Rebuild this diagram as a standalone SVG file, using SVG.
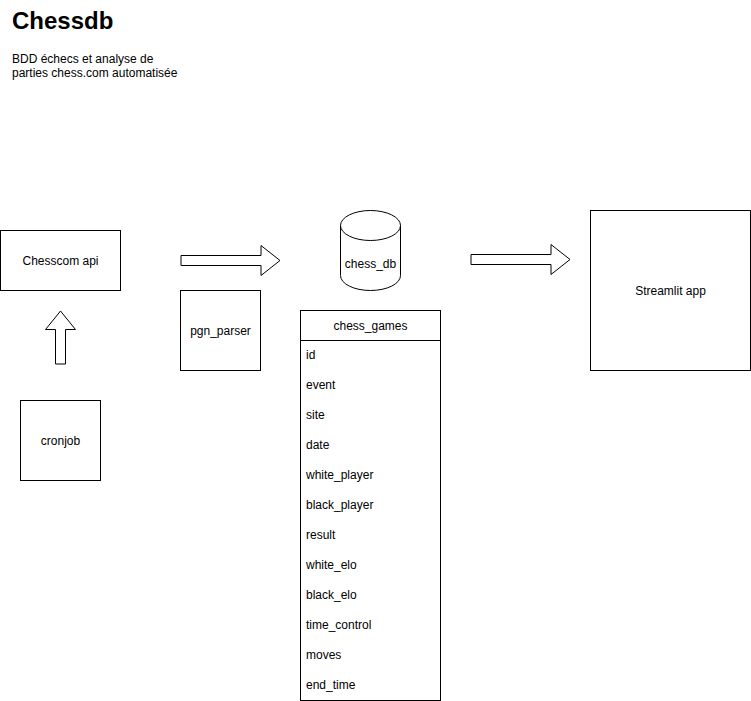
<svg xmlns="http://www.w3.org/2000/svg" width="751" height="701" viewBox="0 0 751 701">
<style>
.n{fill:#fff;stroke:#000;stroke-width:1}
.t{font-family:"Liberation Sans",Arial,sans-serif;font-size:12px;fill:#000}
.c{text-anchor:middle}
.a{fill:#fff;stroke:#000;stroke-width:1;stroke-linejoin:miter}
</style>
<rect width="751" height="701" fill="#fff"/>
<g id="title">
<text x="12" y="29" font-family="Liberation Sans,Arial,sans-serif" font-size="24" font-weight="bold">Chessdb</text>
<text class="t" x="12" y="63">BDD échecs et analyse de</text>
<text class="t" x="12" y="77">parties chess.com automatisée</text>
</g>
<g id="chesscom-api"><rect class="n" x="0.5" y="230.5" width="120" height="60"/><text class="t c" x="60.5" y="264.5">Chesscom api</text></g>
<g id="pgn-parser"><rect class="n" x="180.5" y="290.5" width="80" height="80"/><text class="t c" x="220.5" y="334.5">pgn_parser</text></g>
<g id="cronjob"><rect class="n" x="20.5" y="400.5" width="80" height="80"/><text class="t c" x="60.5" y="444.5">cronjob</text></g>
<g id="streamlit-app"><rect class="n" x="590.5" y="210.5" width="160" height="160"/><text class="t c" x="670.5" y="294.5">Streamlit app</text></g>
<g id="chess-db">
<path class="n" d="M340.5,225.5 A30,15 0 0 1 400.5,225.5 L400.5,275.5 A30,15 0 0 1 340.5,275.5 Z"/>
<path fill="none" stroke="#000" d="M340.5,225.5 A30,15 0 0 0 400.5,225.5"/>
<text class="t c" x="370.5" y="267.5">chess_db</text>
</g>
<g id="chess-games">
<rect class="n" x="300.5" y="310.5" width="140" height="390"/>
<line x1="300.5" y1="340.5" x2="440.5" y2="340.5" stroke="#000"/>
<text class="t c" x="370.5" y="329.5">chess_games</text>
<text class="t" x="306" y="359">id</text>
<text class="t" x="306" y="389">event</text>
<text class="t" x="306" y="419">site</text>
<text class="t" x="306" y="449">date</text>
<text class="t" x="306" y="479">white_player</text>
<text class="t" x="306" y="509">black_player</text>
<text class="t" x="306" y="539">result</text>
<text class="t" x="306" y="569">white_elo</text>
<text class="t" x="306" y="599">black_elo</text>
<text class="t" x="306" y="629">time_control</text>
<text class="t" x="306" y="659">moves</text>
<text class="t" x="306" y="689">end_time</text>
</g>
<g id="connectors">
<path class="a" d="M181,255.5 L261,255.5 L261,245.5 L280,260.5 L261,275.5 L261,265.5 L181,265.5 Z"/>
<path class="a" d="M471,254.5 L551,254.5 L551,244.5 L570,259.5 L551,274.5 L551,264.5 L471,264.5 Z"/>
<path class="a" d="M55.5,364 L55.5,329.5 L45.5,329.5 L60.5,311 L75.5,329.5 L65.5,329.5 L65.5,364 Z"/>
</g>
</svg>
